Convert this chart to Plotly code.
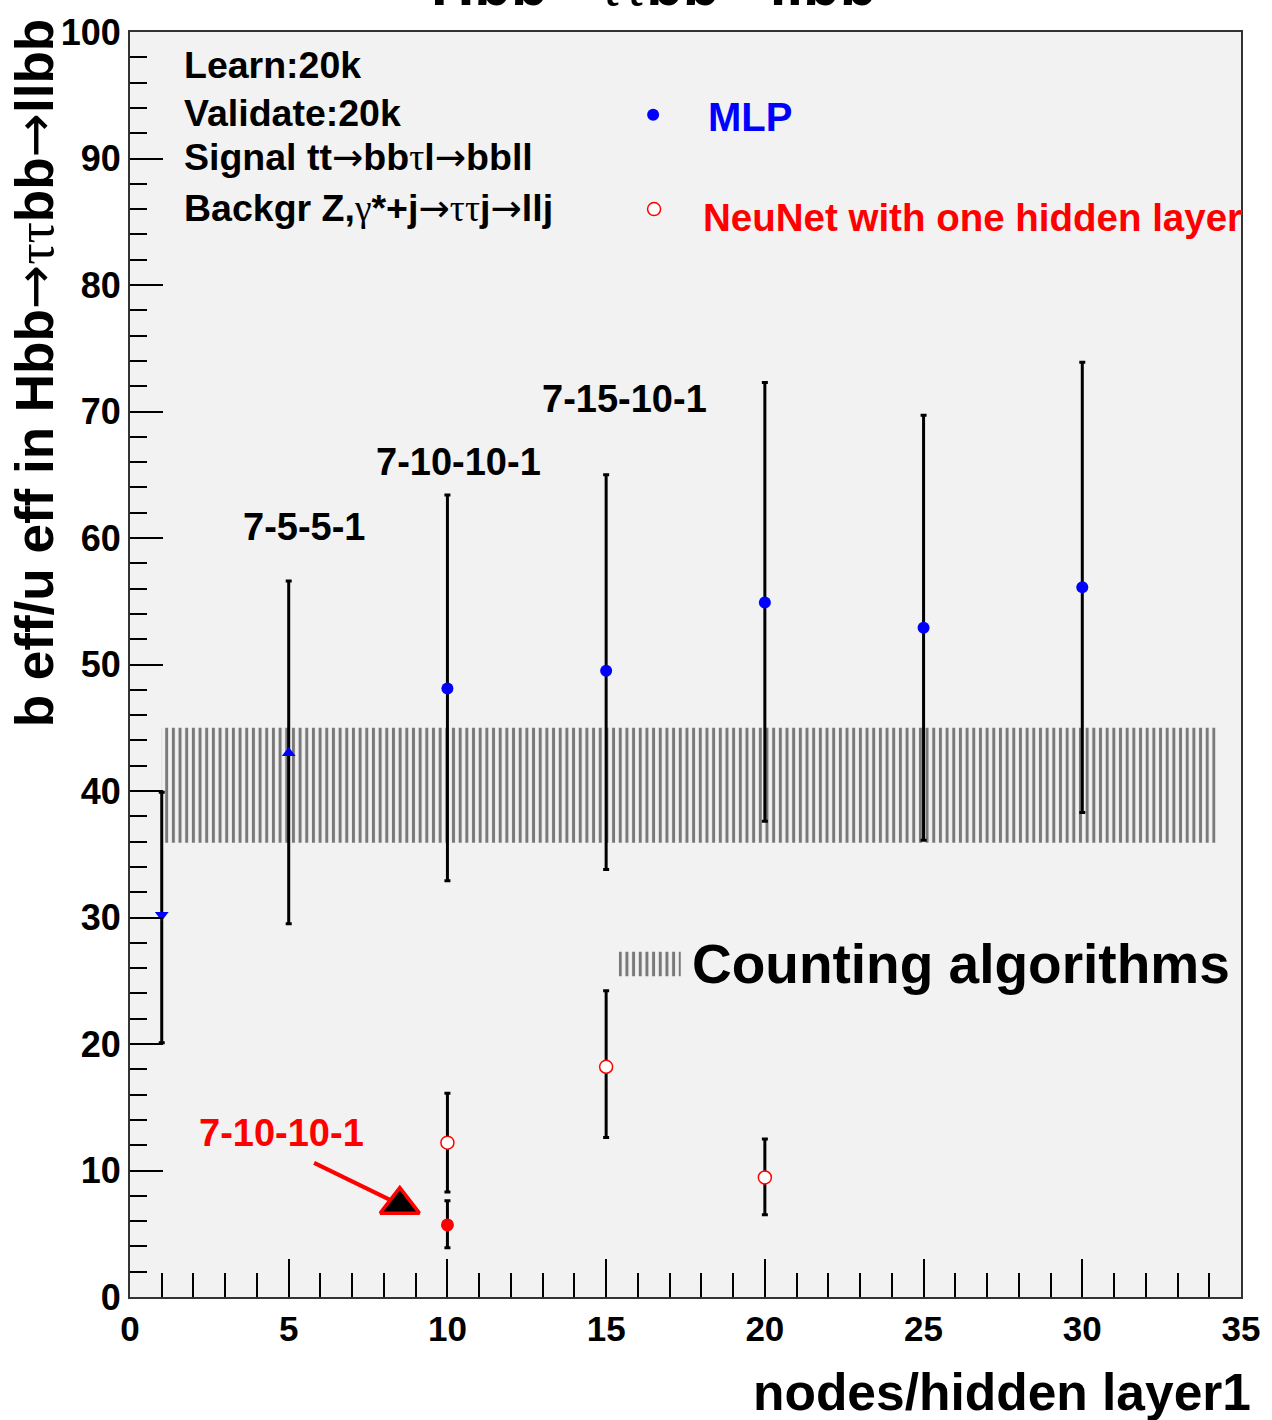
import plotly.graph_objects as go

# ---- data ----
mlp_x = [1, 5, 10, 15, 20, 25, 30]
mlp_y = [30.2, 43.0, 48.1, 49.5, 54.9, 52.9, 56.1]
mlp_lo = [20.1, 29.5, 32.9, 33.8, 37.6, 36.1, 38.3]
mlp_hi = [39.9, 56.6, 63.4, 65.0, 72.3, 69.7, 73.9]
mlp_sym = ["triangle-down", "triangle-up", "circle", "circle", "circle", "circle", "circle"]

nn_x = [10, 15, 20]
nn_y = [12.2, 18.2, 9.45]
nn_lo = [8.3, 12.6, 6.5]
nn_hi = [16.1, 24.2, 12.5]

nn2_x = [10]
nn2_y = [5.7]
nn2_lo = [3.9]
nn2_hi = [7.6]

band_x = [1.0, 34.2]
band_y = [35.9, 45.0]
band_key_x = [15.4, 17.35]
band_key_y = [25.35, 27.3]

arrow_tail = (5.8, 10.6)
arrow_head = (8.5, 7.3)

arch_labels = ["7-5-5-1", "7-10-10-1", "7-15-10-1"]
arch_x = [5.49, 10.36, 15.57]
arch_y = [60.9, 66.0, 71.0]

SER = "<span style='font-family:Liberation Serif;font-weight:normal'>{}</span>"
ARR = "<span style='font-family:DejaVu Sans;font-weight:normal'>→</span>"

info_lines = [
    "Learn:20k",
    "Validate:20k",
    "Signal tt" + ARR + "bb" + SER.format("τ") + "l" + ARR + "bbll",
    "Backgr Z," + SER.format("γ") + "*+j" + ARR + SER.format("ττ") + "j" + ARR + "llj",
]
info_y = [97.4, 93.6, 90.1, 86.1]
info_x = 1.63

title_text = "Hbb" + ARR + SER.format("ττ") + "bb" + ARR + "llbb"
ytitle_text = "b eff/u eff in Hbb" + ARR + SER.format("ττ") + "bb" + ARR + "llbb"
xtitle_text = "nodes/hidden layer1"

BLUE = "#0000ff"
RED = "#ff0000"
FONT = "Liberation Sans"

def err(y, lo, hi):
    return dict(type="data", symmetric=False,
                array=[h - v for v, h in zip(y, hi)],
                arrayminus=[v - l for v, l in zip(y, lo)],
                color="black", thickness=3, width=3)

fig = go.Figure()

hatch = dict(shape="|", size=6.67, solidity=0.45, fgcolor="black", bgcolor="rgba(0,0,0,0)")

# hatched band (counting algorithms)
fig.add_trace(go.Scatter(
    x=[band_x[0], band_x[1], band_x[1], band_x[0], band_x[0]],
    y=[band_y[0], band_y[0], band_y[1], band_y[1], band_y[0]],
    mode="lines", line=dict(width=0, color="rgba(0,0,0,0)"),
    fill="toself", fillcolor="rgba(0,0,0,0)", fillpattern=hatch,
    hoverinfo="skip", showlegend=False))
fig.add_trace(go.Scatter(
    x=[band_key_x[0], band_key_x[1], band_key_x[1], band_key_x[0], band_key_x[0]],
    y=[band_key_y[0], band_key_y[0], band_key_y[1], band_key_y[1], band_key_y[0]],
    mode="lines", line=dict(width=0, color="rgba(0,0,0,0)"),
    fill="toself", fillcolor="rgba(0,0,0,0)", fillpattern=hatch,
    hoverinfo="skip", showlegend=False))

# MLP
fig.add_trace(go.Scatter(
    x=mlp_x, y=mlp_y, mode="markers",
    marker=dict(color=BLUE, size=12, symbol=mlp_sym, line=dict(width=0)),
    error_y=err(mlp_y, mlp_lo, mlp_hi), showlegend=False))

# NeuNet open
fig.add_trace(go.Scatter(
    x=nn_x, y=nn_y, mode="markers",
    marker=dict(color="white", size=13, symbol="circle", line=dict(width=1.5, color=RED)),
    error_y=err(nn_y, nn_lo, nn_hi), showlegend=False))

# NeuNet filled (7-10-10-1)
fig.add_trace(go.Scatter(
    x=nn2_x, y=nn2_y, mode="markers",
    marker=dict(color=RED, size=13, symbol="circle", line=dict(width=0)),
    error_y=err(nn2_y, nn2_lo, nn2_hi), showlegend=False))

# arrow line + head
fig.add_trace(go.Scatter(
    x=[arrow_tail[0], arrow_head[0]], y=[arrow_tail[1], arrow_head[1]],
    mode="lines", line=dict(color=RED, width=4), hoverinfo="skip", showlegend=False))
fig.add_trace(go.Scatter(
    x=[arrow_head[0]], y=[arrow_head[1]], mode="markers",
    marker=dict(color="black", size=34, symbol="triangle-up", line=dict(width=3.5, color=RED)),
    hoverinfo="skip", showlegend=False))

# legend markers
fig.add_trace(go.Scatter(x=[16.48], y=[93.46], mode="markers",
                         marker=dict(color=BLUE, size=12), showlegend=False))
fig.add_trace(go.Scatter(x=[16.51], y=[86.0], mode="markers",
                         marker=dict(color="white", size=13, line=dict(width=1.5, color=RED)),
                         showlegend=False))

ann = []
for t, yy in zip(info_lines, info_y):
    ann.append(dict(x=info_x, y=yy, xref="x", yref="y", text="<b>" + t + "</b>",
                    showarrow=False, xanchor="left", yanchor="middle",
                    font=dict(family=FONT, size=37.5, color="black")))
for t, xx, yy in zip(arch_labels, arch_x, arch_y):
    ann.append(dict(x=xx, y=yy, xref="x", yref="y", text="<b>" + t + "</b>",
                    showarrow=False, xanchor="center", yanchor="middle",
                    font=dict(family=FONT, size=38, color="black")))
ann.append(dict(x=18.14, y=93.3, xref="x", yref="y", text="<b>MLP</b>", showarrow=False,
                xanchor="left", yanchor="middle", font=dict(family=FONT, size=40, color=BLUE)))
ann.append(dict(x=17.99, y=85.35, xref="x", yref="y", text="<b>NeuNet with one hidden layer</b>",
                showarrow=False, xanchor="left", yanchor="middle",
                font=dict(family=FONT, size=38.5, color=RED)))
ann.append(dict(x=17.64, y=26.3, xref="x", yref="y", text="<b>Counting algorithms</b>",
                showarrow=False, xanchor="left", yanchor="middle",
                font=dict(family=FONT, size=55, color="black")))
ann.append(dict(x=4.77, y=13.0, xref="x", yref="y", text="<b>7-10-10-1</b>",
                showarrow=False, xanchor="center", yanchor="middle",
                font=dict(family=FONT, size=38, color=RED)))
# title (cut off at the top of the page)
ann.append(dict(x=0.471, y=1.009, xref="paper", yref="paper",
                text="<b>" + title_text + "</b>",
                showarrow=False, xanchor="center", yanchor="bottom",
                font=dict(family=FONT, size=60, color="black")))
# axis titles
ann.append(dict(x=1.0105, y=-0.075, xref="paper", yref="paper", text="<b>" + xtitle_text + "</b>",
                showarrow=False, xanchor="right", yanchor="middle",
                font=dict(family=FONT, size=51.5, color="black")))
ann.append(dict(x=-0.086, y=1.012, xref="paper", yref="paper",
                text="<b>" + ytitle_text + "</b>",
                textangle=-90, showarrow=False, xanchor="center", yanchor="top",
                font=dict(family=FONT, size=53, color="black")))

fig.update_layout(
    width=1272, height=1420,
    margin=dict(l=130, r=27, t=27, b=123),
    paper_bgcolor="white", plot_bgcolor="#f2f2f2",
    annotations=ann,
    xaxis=dict(range=[0, 35], tickmode="array", tickvals=[0, 5, 10, 15, 20, 25, 30, 35],
               ticks="inside", ticklen=38, tickwidth=1.5, tickcolor="black",
               minor=dict(dtick=1, ticks="inside", ticklen=24, tickwidth=1.5, tickcolor="black"),
               showgrid=False, zeroline=False, showline=True, mirror=True,
               linecolor="#333333", linewidth=2,
               tickfont=dict(family=FONT, size=35, color="black", weight="bold")),
    yaxis=dict(range=[0, 100], tickmode="array", tickvals=list(range(0, 101, 10)),
               ticks="inside", ticklen=33, tickwidth=1.5, tickcolor="black",
               minor=dict(dtick=2, ticks="inside", ticklen=17, tickwidth=1.5, tickcolor="black"),
               showgrid=False, zeroline=False, showline=True, mirror=True,
               linecolor="#333333", linewidth=2,
               tickfont=dict(family=FONT, size=36, color="black", weight="bold")),
)

fig.write_html("out.html")
